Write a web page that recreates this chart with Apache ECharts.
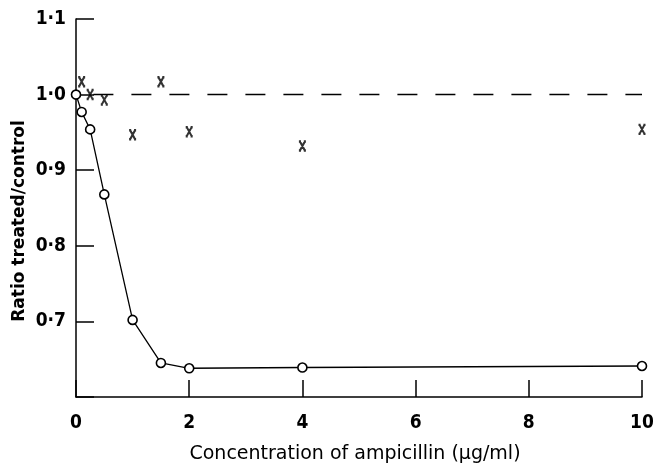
<!DOCTYPE html>
<html>
<head>
<meta charset="utf-8">
<script src="https://cdn.jsdelivr.net/npm/echarts@6/dist/echarts.min.js"></script>
<style>
html,body{margin:0;padding:0;background:#fff;}
#chart{width:653px;height:463px;}
</style>
</head>
<body>
<div id="chart"></div>
<script>
// Treated/control ratio (open circles, joined by a line)
var circleX = [0, 0.1, 0.25, 0.5, 1, 1.5, 2, 4, 10];
var circleY = [1.0, 0.977, 0.954, 0.868, 0.702, 0.645, 0.638, 0.639, 0.641];
// Crosses
var crossX = [0.1, 0.25, 0.5, 1, 1.5, 2, 4, 10];
var crossY = [1.017, 1.0, 0.993, 0.947, 1.017, 0.951, 0.932, 0.954];
// Dashed reference line at 1.0
var refX = [0, 10];
var refY = [1.0, 1.0];
// Tick labels
var xTicks = [0, 2, 4, 6, 8, 10];
var xTickLabels = ['0', '2', '4', '6', '8', '10'];
var yTicks = [0.6, 0.7, 0.8, 0.9, 1.0, 1.1];
var yTickLabels = ['', '0·7', '0·8', '0·9', '1·0', '1·1'];

function pairs(xs, ys) { return xs.map(function (x, i) { return [x, ys[i]]; }); }

var tickFont = {
  color: '#000',
  fontFamily: '"DejaVu Sans Condensed", "DejaVu Sans", sans-serif',
  fontWeight: 'bold',
  fontSize: 19
};

var crossPath = 'path://M0,0L3,0M7,0L10,0M1.5,0L8.5,12M8.5,0L1.5,12M0,12L3,12M7,12L10,12';

var chart = echarts.init(document.getElementById('chart'), null, {renderer: 'canvas'});
chart.setOption({
  animation: false,
  backgroundColor: '#fff',
  grid: {left: 76, right: 11, top: 19, bottom: 66, containLabel: false, outerBoundsMode: 'none'},
  xAxis: {
    type: 'value', min: 0, max: 10, interval: 2,
    axisLine: {show: true, onZero: false, lineStyle: {color: '#000', width: 1.5}},
    axisTick: {show: true, inside: true, length: 17, lineStyle: {color: '#000', width: 1.5}},
    splitLine: {show: false},
    axisLabel: Object.assign({margin: 17, formatter: function (v) {
      var i = xTicks.indexOf(v); return i >= 0 ? xTickLabels[i] : '';
    }}, tickFont),
    name: 'Concentration of ampicillin (\u03bcg/ml)',
    nameLocation: 'middle', nameGap: 48, nameMoveOverlap: false,
    nameTextStyle: {color: '#000', fontFamily: '"DejaVu Sans", sans-serif', fontSize: 19, padding: [0, 8, 0, 0]}
  },
  yAxis: {
    type: 'value', min: 0.6, max: 1.1, interval: 0.1,
    axisLine: {show: true, onZero: false, lineStyle: {color: '#000', width: 1.5}},
    axisTick: {show: true, inside: true, length: 18, lineStyle: {color: '#000', width: 1.5}},
    splitLine: {show: false},
    axisLabel: Object.assign({margin: 10, formatter: function (v) {
      for (var i = 0; i < yTicks.length; i++) { if (Math.abs(yTicks[i] - v) < 1e-6) return yTickLabels[i]; }
      return '';
    }}, tickFont),
    name: 'Ratio treated/control',
    nameLocation: 'middle', nameGap: 48, nameRotate: 90, nameMoveOverlap: false,
    nameTextStyle: {color: '#000', fontFamily: '"DejaVu Sans", sans-serif', fontWeight: 'bold', fontSize: 17, padding: [0, 26, 0, 0]}
  },
  series: [
    {
      type: 'line', data: pairs(refX, refY), showSymbol: false, symbol: 'none',
      lineStyle: {color: '#000', width: 1.5, type: [20, 18], dashOffset: 20.6},
      z: 1
    },
    {
      type: 'line', data: pairs(circleX, circleY),
      symbol: 'circle', symbolSize: 9, showAllSymbol: true,
      lineStyle: {color: '#000', width: 1.3},
      itemStyle: {color: '#fff', borderColor: '#000', borderWidth: 1.6},
      z: 3
    },
    {
      type: 'scatter', data: pairs(crossX, crossY),
      symbol: crossPath, symbolSize: [7, 9],
      itemStyle: {color: '#000', borderColor: '#000', borderWidth: 2.2},
      z: 4
    }
  ]
});
</script>
</body>
</html>
